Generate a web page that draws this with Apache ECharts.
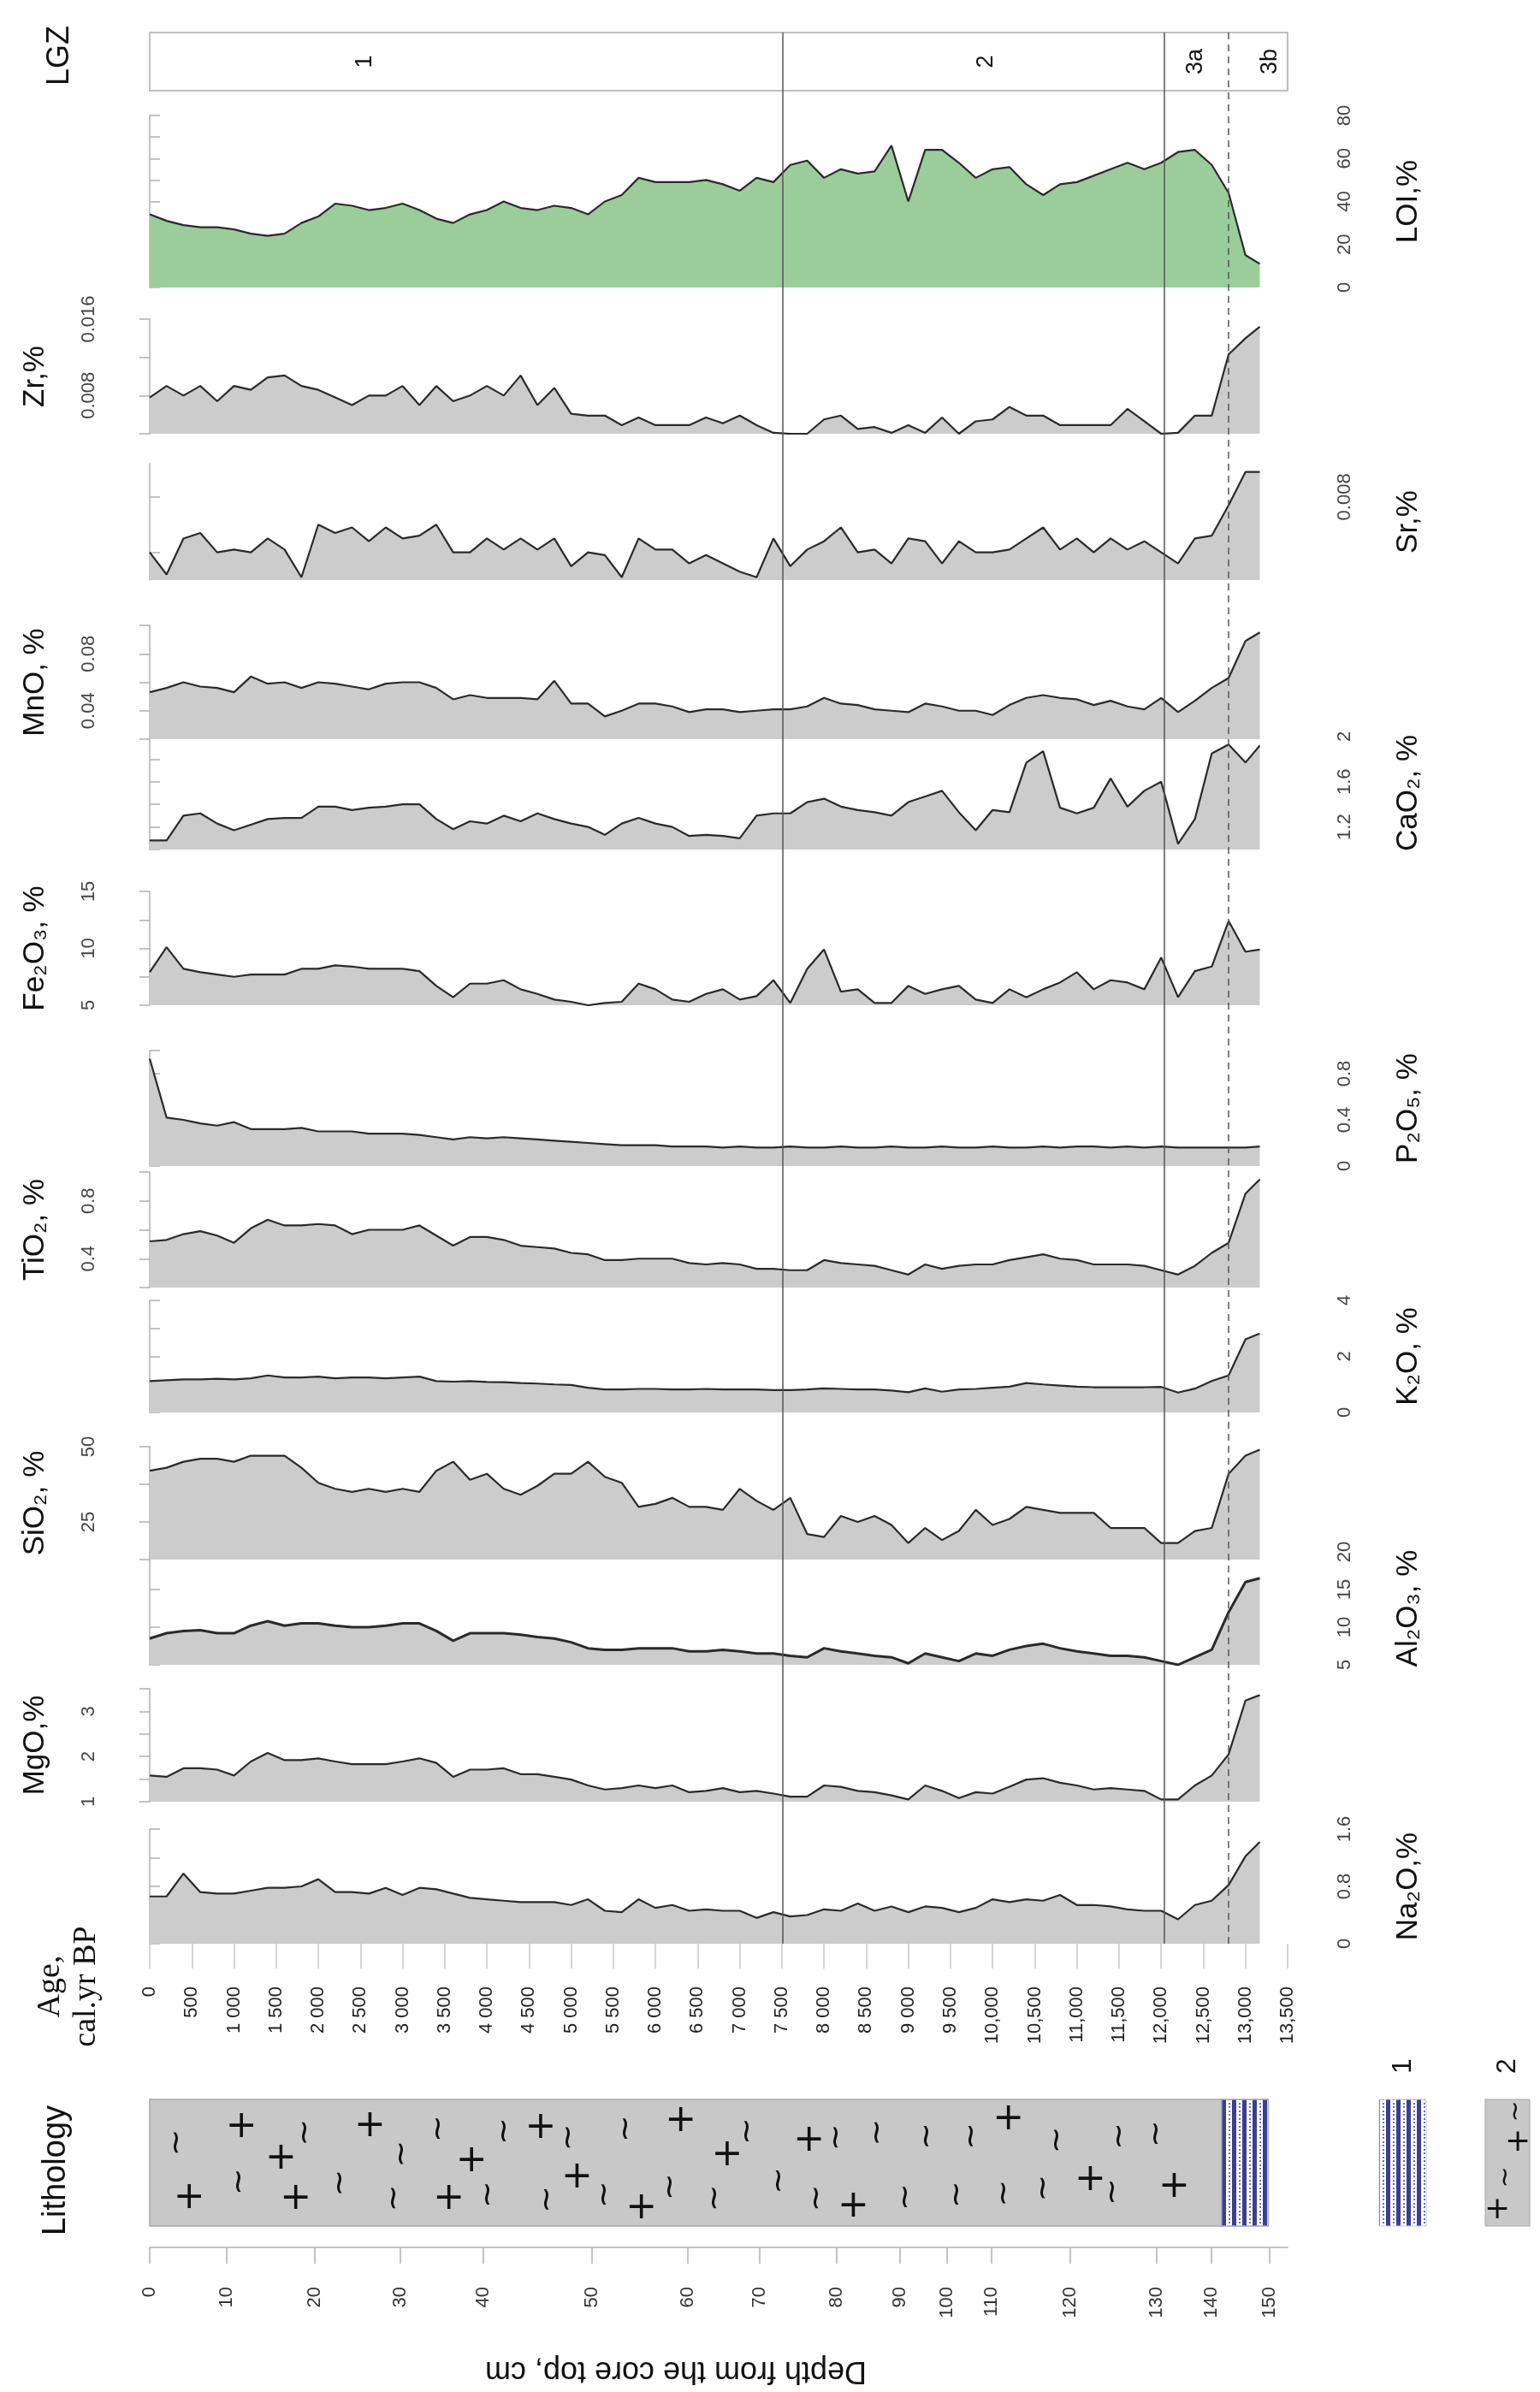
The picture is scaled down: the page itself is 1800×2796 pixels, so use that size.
<!DOCTYPE html>
<html>
<head>
<meta charset="utf-8">
<script src="https://cdn.jsdelivr.net/npm/echarts@6/dist/echarts.min.js"></script>
<style>
  html, body { margin: 0; padding: 0; background: #fff; }
  #chart { width: 1800px; height: 2796px; }
</style>
</head>
<body>
<div id="chart"></div>
<script>
"use strict"

// ages of the samples, cal. yr BP
var AGE = [0,200,400,600,800,1000,1200,1400,1600,1800,2000,2200,2400,2600,2800,3000,3200,3400,3600,3800,
    4000,4200,4400,4600,4800,5000,5200,5400,5600,5800,6000,6200,6400,6600,6800,7000,7200,7400,7600,7800,
    8000,8200,8400,8600,8800,9000,9200,9400,9600,9800,10000,10200,10400,10600,10800,11000,11200,11400,11600,11800,
    12000,12200,12400,12600,12800,13000,13170];

var LOI = [34,31,29,28,28,27,25,24,25,30,33,39,38,36,37,39,36,32,30,34,
    36,40,37,36,38,37,34,40,43,51,49,49,49,50,48,45,51,49,57,59,
    51,55,53,54,66,40,64,64,58,51,55,56,48,43,48,49,52,55,58,55,
    58,63,64,57,44,15,11];
var ZR = [.0078,.0090,.0080,.0090,.0074,.0090,.0086,.0099,.0101,.0090,.0086,.0078,.0070,.0080,.0080,.0090,.0070,.0090,.0074,.0080,
    .0090,.0080,.0101,.0070,.0088,.0061,.0059,.0059,.0049,.0057,.0049,.0049,.0049,.0057,.0051,.0059,.0049,.0041,.0040,.0040,
    .0055,.0059,.0045,.0047,.0041,.0049,.0041,.0057,.0040,.0053,.0055,.0068,.0059,.0059,.0049,.0049,.0049,.0049,.0066,.0053,
    .0040,.0041,.0059,.0059,.0123,.0140,.0152];
var SR = [.0060,.0052,.0065,.0067,.0060,.0061,.0060,.0065,.0061,.0051,.0070,.0067,.0069,.0064,.0069,.0065,.0066,.0070,.0060,.0060,
    .0065,.0061,.0065,.0061,.0065,.0055,.0060,.0059,.0051,.0065,.0061,.0061,.0056,.0059,.0056,.0053,.0051,.0065,.0055,.0061,
    .0064,.0069,.0060,.0061,.0056,.0065,.0064,.0056,.0064,.0060,.0060,.0061,.0065,.0069,.0061,.0065,.0060,.0065,.0061,.0064,
    .0060,.0056,.0065,.0066,.0077,.0089,.0089];
var MNO = [.053,.056,.060,.057,.056,.053,.064,.059,.060,.056,.060,.059,.057,.055,.059,.060,.060,.056,.048,.051,
    .049,.049,.049,.048,.061,.045,.045,.036,.040,.045,.045,.043,.039,.041,.041,.039,.040,.041,.041,.043,
    .049,.045,.044,.041,.040,.039,.045,.043,.040,.040,.037,.044,.049,.051,.049,.048,.044,.047,.043,.041,
    .049,.039,.047,.056,.063,.089,.095];
var CAO = [1.08,1.08,1.30,1.32,1.23,1.17,1.22,1.27,1.28,1.28,1.38,1.38,1.35,1.37,1.38,1.40,1.40,1.27,1.18,1.25,
    1.23,1.30,1.25,1.32,1.27,1.23,1.20,1.13,1.23,1.28,1.23,1.20,1.12,1.13,1.12,1.10,1.30,1.32,1.32,1.42,
    1.45,1.38,1.35,1.33,1.30,1.42,1.47,1.52,1.33,1.17,1.35,1.33,1.77,1.87,1.37,1.32,1.37,1.63,1.38,1.52,
    1.60,1.05,1.27,1.85,1.93,1.77,1.92];
var FE2O3 = [7.9,10.1,8.2,7.9,7.7,7.5,7.7,7.7,7.7,8.2,8.2,8.5,8.4,8.2,8.2,8.2,8.0,6.7,5.7,6.9,
    6.9,7.2,6.4,6.0,5.5,5.3,5.0,5.2,5.3,6.9,6.4,5.5,5.3,6.0,6.4,5.5,5.8,7.2,5.2,8.2,
    9.9,6.2,6.4,5.2,5.2,6.7,6.0,6.4,6.7,5.5,5.2,6.4,5.7,6.4,7.0,7.9,6.4,7.2,7.0,6.4,
    9.2,5.7,8.0,8.4,12.4,9.7,9.9];
var P2O5 = [.93,.42,.40,.37,.35,.38,.32,.32,.32,.33,.30,.30,.30,.28,.28,.28,.27,.25,.23,.25,
    .24,.25,.24,.23,.22,.21,.20,.19,.18,.18,.18,.17,.17,.17,.16,.17,.16,.16,.17,.16,
    .16,.17,.16,.16,.17,.16,.16,.17,.16,.16,.17,.16,.16,.17,.16,.17,.17,.16,.17,.16,
    .17,.16,.16,.16,.16,.16,.17];
var TIO2 = [.52,.53,.57,.59,.56,.51,.61,.67,.63,.63,.64,.63,.57,.60,.60,.60,.63,.56,.49,.55,
    .55,.53,.49,.48,.47,.44,.43,.39,.39,.40,.40,.40,.37,.36,.37,.36,.33,.33,.32,.32,
    .39,.37,.36,.35,.32,.29,.36,.33,.35,.36,.36,.39,.41,.43,.40,.39,.36,.36,.36,.35,
    .32,.29,.35,.44,.51,.85,.95];
var K2O = [1.12,1.15,1.18,1.18,1.20,1.18,1.22,1.32,1.25,1.25,1.28,1.22,1.25,1.25,1.22,1.25,1.28,1.12,1.10,1.12,
    1.09,1.08,1.05,1.03,1.00,0.98,0.88,0.82,0.82,0.84,0.84,0.82,0.82,0.84,0.82,0.82,0.82,0.80,0.80,0.82,
    0.86,0.84,0.82,0.82,0.78,0.72,0.86,0.74,0.82,0.84,0.88,0.92,1.05,1.00,0.96,0.92,0.90,0.90,0.90,0.90,
    0.91,0.71,0.85,1.12,1.32,2.61,2.82];
var SIO2 = [42,43,45,46,46,45,47,47,47,43,38,36,35,36,35,36,35,42,45,39,
    41,36,34,37,41,41,45,40,38,30,31,33,30,30,29,36,32,29,33,21,
    20,27,25,27,24,18,23,19,22,29,24,26,30,29,28,28,28,23,23,23,
    18,18,22,23,41,47,49];
var AL2O3 = [8.5,9.2,9.5,9.6,9.2,9.2,10.2,10.8,10.2,10.5,10.5,10.2,10.0,10.0,10.2,10.5,10.5,9.5,8.2,9.2,
    9.2,9.2,9.0,8.7,8.5,8.0,7.2,7.0,7.0,7.2,7.2,7.2,6.8,6.8,7.0,6.8,6.5,6.5,6.2,6.0,
    7.2,6.8,6.5,6.2,6.0,5.2,6.5,6.0,5.5,6.5,6.2,7.0,7.5,7.8,7.2,6.8,6.5,6.2,6.2,6.0,
    5.5,5.0,6.0,7.0,12.0,16.0,16.5];
var MGO = [1.58,1.55,1.74,1.74,1.71,1.58,1.89,2.08,1.92,1.92,1.96,1.89,1.83,1.83,1.83,1.89,1.96,1.86,1.55,1.71,
    1.71,1.74,1.61,1.61,1.55,1.49,1.36,1.27,1.30,1.36,1.30,1.36,1.21,1.24,1.30,1.21,1.24,1.18,1.11,1.11,
    1.36,1.33,1.24,1.21,1.14,1.05,1.36,1.24,1.08,1.21,1.18,1.33,1.49,1.52,1.42,1.36,1.27,1.30,1.27,1.24,
    1.05,1.05,1.36,1.58,2.05,3.24,3.36];
var NA2O = [.66,.66,.98,.72,.70,.70,.74,.78,.78,.80,.90,.72,.72,.70,.78,.68,.78,.76,.70,.64,
    .62,.60,.58,.58,.58,.54,.62,.46,.44,.62,.50,.54,.46,.48,.46,.46,.36,.44,.38,.40,
    .48,.46,.56,.46,.52,.44,.52,.50,.44,.50,.62,.58,.62,.60,.68,.54,.54,.52,.48,.46,
    .46,.34,.54,.60,.82,1.22,1.42];

// age axis ticks
var AGE_TICKS = [0,500,1000,1500,2000,2500,3000,3500,4000,4500,5000,5500,6000,6500,7000,
    7500,8000,8500,9000,9500,10000,10500,11000,11500,12000,12500,13000,13500];
// depth scale: depth (cm) and the age it sits at
var DEPTH_TICKS = [0,10,20,30,40,50,60,70,80,90,100,110,120,130,140,150];
var DEPTH_AGES = [0,914,1954,2970,3960,5249,6386,7239,8152,8904,9462,9990,10924,11949,12599,13289];

// zones (LGZ)
var ZONE_BOUNDS = [7505, 12035, 12800];
var ZONE_NAMES = ["1", "2", "3a", "3b"];
var ZONE_LABEL_AGES = [2553, 9920, 12410, 13290];

// lithology: [from age, to age, type]
var LITHO = [[0, 12717, 2], [12717, 13270, 1]];
var PLUS_MARKS = [[468,0.78],[1089,0.22],[1557,0.47],[1733,0.79],[2612,0.21],[3549,0.79],[3818,0.49],[4637,0.23],
    [5070,0.62],[5832,0.86],[6300,0.17],[6850,0.44],[7822,0.33],[8349,0.85],[10188,0.16],[11160,0.64],[12155,0.69]];
var TILDE_MARKS = [[328,0.34],[1066,0.65],[1850,0.26],[2260,0.66],[2904,0.78],[2998,0.43],[3431,0.23],[4016,0.75],
    [4215,0.25],[4719,0.79],[4977,0.30],[5398,0.75],[5656,0.23],[6183,0.69],[6710,0.78],[7096,0.25],[7471,0.64],
    [7916,0.78],[8150,0.30],[8642,0.26],[8970,0.77],[9228,0.29],[9580,0.75],[9755,0.29],[10141,0.74],[10609,0.70],
    [10773,0.32],[11429,0.73],[11511,0.29],[11944,0.27]];

var FONT = "Liberation Sans, Arial, DejaVu Sans, sans-serif";
var X0 = 175, XW = 1330;

var PANELS = [
    {name: "LOI,%", data: LOI, top: 135, bottom: 336, min: 0, max: 80, ticks: [0,10,20,30,40,50,60,70,80], labels: [0,20,40,60,80], side: "right", fill: "#9acd9a"},
    {name: "Zr,%", data: ZR, top: 373, bottom: 507, min: 0.004, max: 0.016, ticks: [0.004,0.008,0.012,0.016], labels: [0.008,0.016], side: "left"},
    {name: "Sr,%", data: SR, top: 542, bottom: 678, min: 0.005, max: 0.0092, ticks: [0.006,0.008], labels: [0.008], side: "right"},
    {name: "MnO, %", data: MNO, top: 731, bottom: 864, min: 0.02, max: 0.1, ticks: [0.02,0.04,0.06,0.08,0.1], labels: [0.04,0.08], side: "left"},
    {name: "CaO\u2082, %", data: CAO, top: 861, bottom: 993, min: 1.0, max: 2.0, ticks: [1.0,1.2,1.4,1.6,1.8,2.0], labels: [1.2,1.6,2], side: "right"},
    {name: "Fe\u2082O\u2083, %", data: FE2O3, top: 1042, bottom: 1175, min: 5, max: 15, ticks: [5,7.5,10,12.5,15], labels: [5,10,15], side: "left"},
    {name: "P\u2082O\u2085, %", data: P2O5, top: 1228, bottom: 1363, min: 0, max: 1.0, ticks: [0,0.2,0.4,0.6,0.8,1.0], labels: [0,0.4,0.8], side: "right"},
    {name: "TiO\u2082, %", data: TIO2, top: 1370, bottom: 1505, min: 0.2, max: 1.0, ticks: [0.2,0.4,0.6,0.8,1.0], labels: [0.4,0.8], side: "left"},
    {name: "K\u2082O, %", data: K2O, top: 1520, bottom: 1651, min: 0, max: 4, ticks: [0,1,2,3,4], labels: [0,2,4], side: "right"},
    {name: "SiO\u2082, %", data: SIO2, top: 1691, bottom: 1823, min: 12.5, max: 50, ticks: [12.5,25,37.5,50], labels: [25,50], side: "left"},
    {name: "Al\u2082O\u2083, %", data: AL2O3, top: 1814, bottom: 1946, min: 5, max: 20, ticks: [5,7.5,10,15,20], labels: [5,10,15,20], side: "right", width: 3},
    {name: "MgO,%", data: MGO, top: 1974, bottom: 2106, min: 1, max: 3.5, ticks: [1,1.5,2,2.5,3,3.5], labels: [1,2,3], side: "left"},
    {name: "Na\u2082O,%", data: NA2O, top: 2138, bottom: 2272, min: 0, max: 1.6, ticks: [0,0.4,0.8,1.2,1.6], labels: [0,0.8,1.6], side: "right"}
];

function pairs(xs, ys){
    var out = [];
    for (let i = 0; i < xs.length; i++) out.push([xs[i], ys[i]]);
    return out;
}

function ageLabel(v){
    if (v < 1000) return String(v);
    var th = Math.floor(v / 1000), rest = String(v % 1000).padStart(3, "0");
    return v < 10000 ? th + " " + rest : th + "," + rest;
}

function stripePattern(){
    var c = document.createElement("canvas");
    c.width = 12; c.height = 9;
    var g = c.getContext("2d");
    g.fillStyle = "#ffffff"; g.fillRect(0, 0, 12, 9);
    g.fillStyle = "#3a3f8f"; g.fillRect(0, 0, 5, 9);
    g.fillStyle = "#6a70c0";
    g.fillRect(8, 1, 2, 2); g.fillRect(8, 5, 2, 2);
    return {image: c, repeat: "repeat"};
}
var PATTERN = stripePattern();

// text mark rotated by 90 degrees (reads bottom to top), placed at data coords
function textMarks(gi, data, text, font, rot){
    return {
        type: "custom", xAxisIndex: gi, yAxisIndex: gi, silent: true, data: data,
        renderItem: function(params, api){
            var p = api.coord([api.value(0), api.value(1)]);
            var t = typeof text === "function" ? text(params.dataIndex) : text;
            return {
                type: "text", x: p[0], y: p[1], rotation: rot,
                style: {text: t, font: font, fill: "#111", align: "center", verticalAlign: "middle"}
            };
        }
    };
}

var grids = [], xAxes = [], yAxes = [], series = [];

function hiddenX(){
    return {type: "value", min: 0, max: 13500, show: false};
}

PANELS.forEach(function(p, i){
    grids.push({left: X0, width: XW, top: p.top, height: p.bottom - p.top});
    var last = i === PANELS.length - 1;
    if (last) {
        xAxes.push({
            gridIndex: i, type: "value", min: 0, max: 13500, position: "bottom",
            axisLine: {show: false}, splitLine: {show: false},
            axisTick: {customValues: AGE_TICKS, length: 29, lineStyle: {color: "#c8c8c8", width: 1.5}},
            axisLabel: {customValues: AGE_TICKS, rotate: 90, margin: 50, fontSize: 22, color: "#222",
                fontFamily: FONT, formatter: ageLabel}
        });
    } else {
        var ax = hiddenX(); ax.gridIndex = i; xAxes.push(ax);
    }
    var left = p.side === "left";
    yAxes.push({
        gridIndex: i, type: "value", min: p.min, max: p.max, position: p.side,
        name: p.name, nameLocation: "middle", nameRotate: 90, nameGap: left ? 116 : 124,
        nameTextStyle: {fontSize: 35, color: "#111", fontFamily: FONT},
        axisLine: {show: true, lineStyle: {color: "#b0b0b0", width: 1.5}},
        axisTick: {show: true, customValues: p.ticks, length: 12, lineStyle: {color: "#b0b0b0", width: 1.5}},
        axisLabel: {customValues: p.labels, rotate: 90, margin: left ? 60 : 56, fontSize: 22,
            color: "#444", fontFamily: FONT},
        splitLine: {show: false}
    });
    series.push({
        type: "line", xAxisIndex: i, yAxisIndex: i, data: pairs(AGE, p.data),
        symbol: "none", silent: true,
        lineStyle: {color: "#2a2a2a", width: p.width || 2.2},
        areaStyle: {color: p.fill || "#cccccc", opacity: 1, origin: "start"}
    });
});

// LGZ box
var gLgz = grids.length;
grids.push({left: X0, width: XW, top: 38, height: 68, show: true, borderColor: "#aaa", borderWidth: 1.5, backgroundColor: "#fff"});
xAxes.push(Object.assign(hiddenX(), {gridIndex: gLgz}));
yAxes.push({gridIndex: gLgz, type: "value", min: 0, max: 1, show: false});
series.push(textMarks(gLgz, ZONE_LABEL_AGES.map(function(a){ return [a, 0.5]; }),
    function(i){ return ZONE_NAMES[i]; }, "27px " + FONT, Math.PI / 2));

// zone boundary lines through all panels
var gLines = grids.length;
grids.push({left: X0, width: XW, top: 38, height: 2272 - 38});
xAxes.push(Object.assign(hiddenX(), {gridIndex: gLines}));
yAxes.push({gridIndex: gLines, type: "value", min: 0, max: 1, show: false});
series.push({
    type: "line", xAxisIndex: gLines, yAxisIndex: gLines, data: [], z: 10,
    markLine: {
        silent: true, symbol: "none", label: {show: false},
        data: ZONE_BOUNDS.map(function(a, i){
            return {xAxis: a, lineStyle: {color: "#555", width: 1.5, type: i === 2 ? [8, 6] : "solid"}};
        })
    }
});

// lithology column
var gLith = grids.length;
grids.push({left: X0, width: XW, top: 2454, height: 148});
xAxes.push(Object.assign(hiddenX(), {gridIndex: gLith}));
yAxes.push({gridIndex: gLith, type: "value", min: 0, max: 1, inverse: true, show: false});
series.push({
    type: "custom", xAxisIndex: gLith, yAxisIndex: gLith, silent: true, data: LITHO,
    renderItem: function(params, api){
        var a = api.coord([api.value(0), 0]), b = api.coord([api.value(1), 1]);
        return {
            type: "rect",
            shape: {x: a[0], y: a[1], width: b[0] - a[0], height: b[1] - a[1]},
            style: {fill: api.value(2) === 1 ? PATTERN : "#c8c8c8", stroke: "#a8a8a8", lineWidth: 1.5}
        };
    }
});
series.push(textMarks(gLith, PLUS_MARKS, "+", "44px DejaVu Sans", 0));
series.push(textMarks(gLith, TILDE_MARKS, "~", "38px DejaVu Sans", Math.PI / 2));

// depth axis
var gDepth = grids.length;
grids.push({left: X0, width: XW, top: 2626, height: 1});
xAxes.push({
    gridIndex: gDepth, type: "value", min: 0, max: 13500, position: "bottom",
    axisLine: {show: true, lineStyle: {color: "#b0b0b0", width: 1.5}},
    axisTick: {customValues: DEPTH_AGES, length: 19, lineStyle: {color: "#b0b0b0", width: 1.5}},
    axisLabel: {customValues: DEPTH_AGES, rotate: 90, margin: 46, fontSize: 22, color: "#333", fontFamily: FONT,
        formatter: function(v){ return String(DEPTH_TICKS[DEPTH_AGES.indexOf(v)]); }},
    splitLine: {show: false}
});
yAxes.push({gridIndex: gDepth, type: "value", show: false});

var graphic = [
    {type: "text", x: 70, y: 65, rotation: Math.PI / 2, style: {text: "LGZ", font: "36px " + FONT, fill: "#111", align: "center", verticalAlign: "middle"}},
    {type: "text", x: 80, y: 2322, rotation: Math.PI / 2, style: {text: "Age,\ncal.yr BP", font: "38px Liberation Serif, serif", fill: "#111", align: "center", verticalAlign: "middle", lineHeight: 42}},
    {type: "text", x: 66, y: 2537, rotation: Math.PI / 2, style: {text: "Lithology", font: "38px " + FONT, fill: "#111", align: "center", verticalAlign: "middle"}},
    {type: "text", x: 790, y: 2771, rotation: Math.PI, style: {text: "Depth from the core top, cm", font: "36px " + FONT, fill: "#111", align: "center", verticalAlign: "middle"}},
    {type: "rect", shape: {x: 1612, y: 2454, width: 55, height: 148}, style: {fill: PATTERN, stroke: "#ccc"}},
    {type: "rect", shape: {x: 1736, y: 2454, width: 52, height: 148}, style: {fill: "#c8c8c8", stroke: "#a8a8a8"}},
    {type: "text", x: 1640, y: 2415, rotation: Math.PI / 2, style: {text: "1", font: "32px " + FONT, fill: "#111", align: "center", verticalAlign: "middle"}},
    {type: "text", x: 1762, y: 2415, rotation: Math.PI / 2, style: {text: "2", font: "32px " + FONT, fill: "#111", align: "center", verticalAlign: "middle"}},
    {type: "text", x: 1750, y: 2584, style: {text: "+", font: "36px DejaVu Sans", fill: "#111", align: "center", verticalAlign: "middle"}},
    {type: "text", x: 1774, y: 2505, style: {text: "+", font: "36px DejaVu Sans", fill: "#111", align: "center", verticalAlign: "middle"}},
    {type: "text", x: 1760, y: 2545, rotation: Math.PI / 2, style: {text: "~", font: "30px DejaVu Sans", fill: "#111", align: "center", verticalAlign: "middle"}},
    {type: "text", x: 1772, y: 2468, rotation: Math.PI / 2, style: {text: "~", font: "30px DejaVu Sans", fill: "#111", align: "center", verticalAlign: "middle"}}
];

var chart = echarts.init(document.getElementById("chart"));
chart.setOption({
    backgroundColor: "#fff",
    animation: false,
    grid: grids,
    xAxis: xAxes,
    yAxis: yAxes,
    series: series,
    graphic: graphic
});
</script>
</body>
</html>
